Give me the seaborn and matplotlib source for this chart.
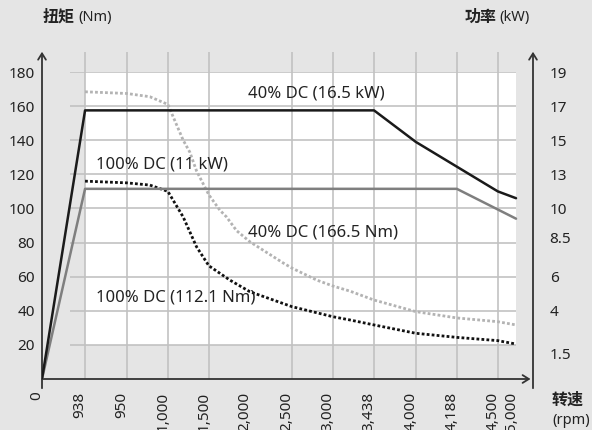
import numpy as np
import matplotlib
matplotlib.use("Agg")
import matplotlib.pyplot as plt
import matplotlib.transforms as mtransforms
import seaborn as sns

# speed ticks (rpm); the axis gives each tick its own slot, not linear
tick_rpm = [0, 938, 950, 1000, 1500, 2000, 2500, 3000, 3438, 4000, 4188, 4500, 5000]
tick_labels = ["0", "938", "950", "1,000", "1,500", "2,000", "2,500", "3,000",
               "3,438", "4,000", "4,188", "4,500", "5,000"]

# 40% DC power limit (16.5 kW), torque in Nm
p40_rpm = [0, 938, 3438, 4000, 4188, 4500, 5000]
p40_nm = [0, 157.5, 157.5, 139, 124.5, 110, 106]

# 100% DC power limit (11 kW)
p100_rpm = [0, 938, 4188, 5000]
p100_nm = [0, 111.5, 111.5, 94]

# 40% DC torque (166.5 Nm)
t40_rpm = [938, 950, 978, 1000, 1187, 1268, 1350, 1500, 1634, 1716, 1838, 2000,
           2396, 2500, 2801, 3000, 3182, 3438, 4000, 4188, 4500, 5000]
t40_nm = [168.4, 167.4, 165.5, 161, 140, 133, 122, 108, 99, 95, 87, 80.5,
          68, 65, 58, 54.5, 51.5, 46.3, 39.5, 35.8, 33.6, 31.7]

# 100% DC torque (112.1 Nm)
t100_rpm = [938, 950, 978, 1000, 1187, 1350, 1500, 1756, 2000, 2500, 3000,
            3182, 3438, 4000, 4188, 4500, 5000]
t100_nm = [116, 115, 113.7, 110, 95, 77.5, 66.4, 58, 51.2, 42.4, 36.5,
           34.6, 31.7, 26.8, 24.4, 22.5, 20.5]

# right axis (kW) labels and the torque height they sit at
kw_labels = ["19", "17", "15", "13", "10", "8.5", "6", "4", "1.5"]
kw_at_nm = [180, 160, 140, 120, 100, 83, 60, 40, 15]

sns.set_style("white")
plt.rcParams["font.family"] = ["Noto Sans", "Noto Sans CJK SC"]

BG = "#e5e5e5"
GRID = "#c2c2c2"
INK = "#222222"

# slot positions of the ticks on the drawn axis
slot_rpm = tick_rpm + [5500]
slot_pos = [0, 1.04, 2.05, 3.04, 4.03, 5.02, 6.04, 7.03, 8.02, 9.03, 10.02, 11.01, 11.45, 11.89]


def fwd(x):
    return np.interp(x, slot_rpm, slot_pos)


def inv(p):
    return np.interp(p, slot_pos, slot_rpm)


fig = plt.figure(figsize=(5.92, 4.30), dpi=100, facecolor=BG)
ax = fig.add_axes([42 / 592, 1 - 379 / 430, 491 / 592, 307 / 430])
ax.set_facecolor(BG)
ax.set_xscale("function", functions=(fwd, inv))
ax.set_xlim(0, 5466)
ax.set_ylim(0, 180)

# white plotting field and grid
ax.fill_between([938, 5000], 20, 180, color="white", zorder=0, lw=0)
ax.hlines(range(20, 181, 20), 610, 5000, color=GRID, lw=1.2, zorder=1)
grid_x = [938, 950, 1000, 1500, 2500, 3000, 3438, 4000, 4188, 4500]
ax.vlines(grid_x, 0, 191.7, color=GRID, lw=1.2, zorder=1, clip_on=False)

sns.lineplot(x=t40_rpm, y=t40_nm, ax=ax, color="#b3b3b3", lw=2.0,
             linestyle=(0, (1, 0.8)), zorder=3, sort=False, estimator=None)
sns.lineplot(x=t100_rpm, y=t100_nm, ax=ax, color="#111111", lw=2.0,
             linestyle=(0, (1, 0.8)), zorder=3, sort=False, estimator=None)
sns.lineplot(x=p100_rpm, y=p100_nm, ax=ax, color="#7f7f7f", lw=1.8,
             zorder=4, sort=False, estimator=None)
sns.lineplot(x=p40_rpm, y=p40_nm, ax=ax, color="#1a1a1a", lw=1.8,
             zorder=4, sort=False, estimator=None)

ax.set_xlim(0, 5466)
ax.set_ylim(0, 180)

txt = dict(fontsize=12, color=INK, ha="left", va="center", zorder=5)
ax.text(1976, 167.5, "40% DC (16.5 kW)", **txt)
ax.text(941, 125.5, "100% DC (11 kW)", **txt)
ax.text(1976, 86, "40% DC (166.5 Nm)", **txt)
ax.text(941, 48, "100% DC (112.1 Nm)", **txt)

for s in ax.spines.values():
    s.set_visible(False)

ax.set_xticks(tick_rpm)
ax.set_xticklabels(tick_labels, rotation=90, va="top", ha="center")
ax.set_yticks(range(20, 181, 20))
ax.tick_params(axis="x", length=0, pad=9, labelsize=11, labelcolor=INK)
ax.tick_params(axis="y", length=0, pad=5, labelsize=11, labelcolor=INK)
shift = mtransforms.ScaledTranslation(-0.05, 0, fig.dpi_scale_trans)
for lab in ax.get_xticklabels():
    lab.set_transform(lab.get_transform() + shift)

ax2 = ax.twinx()
ax2.set_ylim(0, 180)
ax2.set_yticks(kw_at_nm)
ax2.set_yticklabels(kw_labels)
ax2.tick_params(axis="y", length=0, pad=12, labelsize=11, labelcolor=INK)
for s in ax2.spines.values():
    s.set_visible(False)

# axis lines with arrow heads
arrow = dict(arrowstyle="->,head_length=0.45,head_width=0.28", lw=1.3,
             color="#333333", shrinkA=0, shrinkB=0)
ax.annotate("", xy=(0, 1.066), xytext=(0, -0.03), xycoords="axes fraction",
            arrowprops=arrow, annotation_clip=False)
ax.annotate("", xy=(1, 1.066), xytext=(1, -0.03), xycoords="axes fraction",
            arrowprops=arrow, annotation_clip=False)
ax.annotate("", xy=(0.995, 0), xytext=(0, 0), xycoords="axes fraction",
            arrowprops=arrow, annotation_clip=False)

# axis titles
fig.text(43 / 592, 1 - 18 / 430, "扭矩", fontsize=11.5, weight="bold", color=INK, va="center")
fig.text(78 / 592, 1 - 18 / 430, "(Nm)", fontsize=10.5, color=INK, va="center")
fig.text(465 / 592, 1 - 18 / 430, "功率", fontsize=11.5, weight="bold", color=INK, va="center")
fig.text(499 / 592, 1 - 18 / 430, "(kW)", fontsize=10.5, color=INK, va="center")
fig.text(552 / 592, 1 - 401 / 430, "转速", fontsize=11.5, weight="bold", color=INK, va="center")
fig.text(552 / 592, 1 - 421 / 430, "(rpm)", fontsize=10.5, color=INK, va="center")

fig.savefig("out.png", dpi=100, facecolor=BG)
